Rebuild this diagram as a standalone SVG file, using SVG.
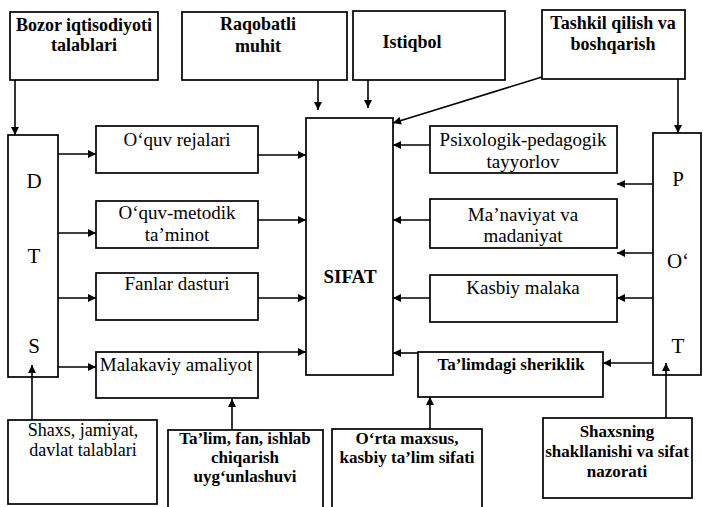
<svg xmlns="http://www.w3.org/2000/svg" width="703" height="507" viewBox="0 0 703 507" font-family="Liberation Serif, Times New Roman, DejaVu Serif, serif">
<defs>
<marker id="ah" viewBox="0 0 10 10" refX="10" refY="5" markerWidth="9" markerHeight="8" markerUnits="userSpaceOnUse" orient="auto">
<path d="M0,0 L10,5 L0,10 z" fill="#000"/>
</marker>
<style>
rect{fill:#fff;stroke:#000;stroke-width:1.7}
text{font-family:'Liberation Serif','Times New Roman','DejaVu Serif',serif;fill:#000;text-anchor:middle}
.b{font-weight:bold;font-size:18px}
.bs{font-weight:bold;font-size:17px}
.r{font-size:19px}
.rs{font-size:18px}
.big{font-size:21px}
.sf{font-weight:bold;font-size:19px}
#conn line{stroke:#000;stroke-width:1.6;marker-end:url(#ah)}
</style>
</defs>
<rect x="0" y="0" width="703" height="507" style="fill:#fff;stroke:none"/>
<g id="bozor"><rect x="10" y="12" width="148" height="68"/><text class="b" x="84" y="31">Bozor iqtisodiyoti</text><text class="b" x="84" y="51">talablari</text></g>
<g id="raqobat"><rect x="182" y="12" width="165" height="68"/><text class="b" x="258" y="30">Raqobatli</text><text class="b" x="258" y="52">muhit</text></g>
<g id="istiqbol"><rect x="353" y="11" width="152" height="69"/><text class="b" x="412" y="48">Istiqbol</text></g>
<g id="tashkil"><rect x="542" y="10" width="143" height="69"/><text class="b" x="613" y="29">Tashkil qilish va</text><text class="b" x="613" y="50">boshqarish</text></g>
<g id="dts"><rect x="8" y="135" width="50" height="242"/><text class="big" x="34" y="188">D</text><text class="big" x="34" y="263">T</text><text class="big" x="34" y="353">S</text></g>
<g id="pot"><rect x="653" y="133" width="48" height="242"/><text class="big" x="678" y="186">P</text><text class="big" x="678" y="268">O‘</text><text class="big" x="678" y="353">T</text></g>
<g id="sifat"><rect x="306" y="118" width="87" height="257"/><text class="sf" x="350" y="283">SIFAT</text></g>
<g id="rejalar"><rect x="96" y="126" width="162" height="47"/><text class="r" x="177" y="146">O‘quv rejalari</text></g>
<g id="metodik"><rect x="96" y="201" width="162" height="47"/><text class="r" x="177" y="219">O‘quv-metodik</text><text class="r" x="177" y="241">ta’minot</text></g>
<g id="fanlar"><rect x="96" y="273" width="162" height="47"/><text class="r" x="177" y="290">Fanlar dasturi</text></g>
<g id="malakaviy"><rect x="96" y="352" width="162" height="46"/><text class="r" x="176" y="371">Malakaviy amaliyot</text></g>
<g id="psixologik"><rect x="430" y="126" width="187" height="47"/><text class="r" x="523" y="146">Psixologik-pedagogik</text><text class="r" x="523" y="168">tayyorlov</text></g>
<g id="manaviyat"><rect x="430" y="199" width="187" height="49"/><text class="r" x="523" y="221">Ma’naviyat va</text><text class="r" x="523" y="242">madaniyat</text></g>
<g id="kasbiy"><rect x="430" y="275" width="187" height="47"/><text class="r" x="523" y="294">Kasbiy malaka</text></g>
<g id="sheriklik"><rect x="418" y="352" width="185" height="45"/><text class="bs" x="511" y="370">Ta’limdagi sheriklik</text></g>
<g id="shaxs"><rect x="8" y="420" width="149" height="84"/><text class="rs" x="83" y="436">Shaxs, jamiyat,</text><text class="rs" x="83" y="456">davlat talablari</text></g>
<g id="talim"><rect x="168" y="430" width="155" height="90"/><text class="bs" x="245" y="444">Ta’lim, fan, ishlab</text><text class="bs" x="245" y="463">chiqarish</text><text class="bs" x="245" y="482">uyg‘unlashuvi</text></g>
<g id="orta"><rect x="332" y="429" width="150" height="90"/><text class="bs" x="407" y="444">O‘rta maxsus,</text><text class="bs" x="407" y="463">kasbiy ta’lim sifati</text></g>
<g id="shaxsning"><rect x="543" y="418" width="149" height="80"/><text class="bs" x="617" y="437">Shaxsning</text><text class="bs" x="617" y="457">shakllanishi va sifat</text><text class="bs" x="617" y="477">nazorati</text></g>
<g id="conn">
<line x1="15" y1="80" x2="15" y2="135"/>
<line x1="318" y1="80" x2="318" y2="110"/>
<line x1="368" y1="80" x2="368" y2="108"/>
<line x1="542" y1="77" x2="393" y2="123"/>
<line x1="678" y1="79" x2="678" y2="133"/>
<line x1="58" y1="154" x2="96" y2="154"/>
<line x1="58" y1="233" x2="96" y2="233"/>
<line x1="58" y1="298" x2="96" y2="298"/>
<line x1="58" y1="367" x2="96" y2="367"/>
<line x1="258" y1="155" x2="306" y2="155"/>
<line x1="258" y1="220" x2="306" y2="220"/>
<line x1="258" y1="298" x2="306" y2="298"/>
<line x1="258" y1="352" x2="306" y2="352"/>
<line x1="430" y1="145" x2="393" y2="145"/>
<line x1="430" y1="220" x2="393" y2="220"/>
<line x1="430" y1="298" x2="393" y2="298"/>
<line x1="418" y1="353" x2="393" y2="353"/>
<line x1="653" y1="184" x2="617" y2="184"/>
<line x1="653" y1="253" x2="617" y2="253"/>
<line x1="653" y1="298" x2="617" y2="298"/>
<line x1="653" y1="363" x2="603" y2="363"/>
<line x1="32" y1="420" x2="32" y2="365"/>
<line x1="232" y1="430" x2="232" y2="399"/>
<line x1="430" y1="429" x2="430" y2="397"/>
<line x1="666" y1="418" x2="666" y2="363"/>
</g>
</svg>
